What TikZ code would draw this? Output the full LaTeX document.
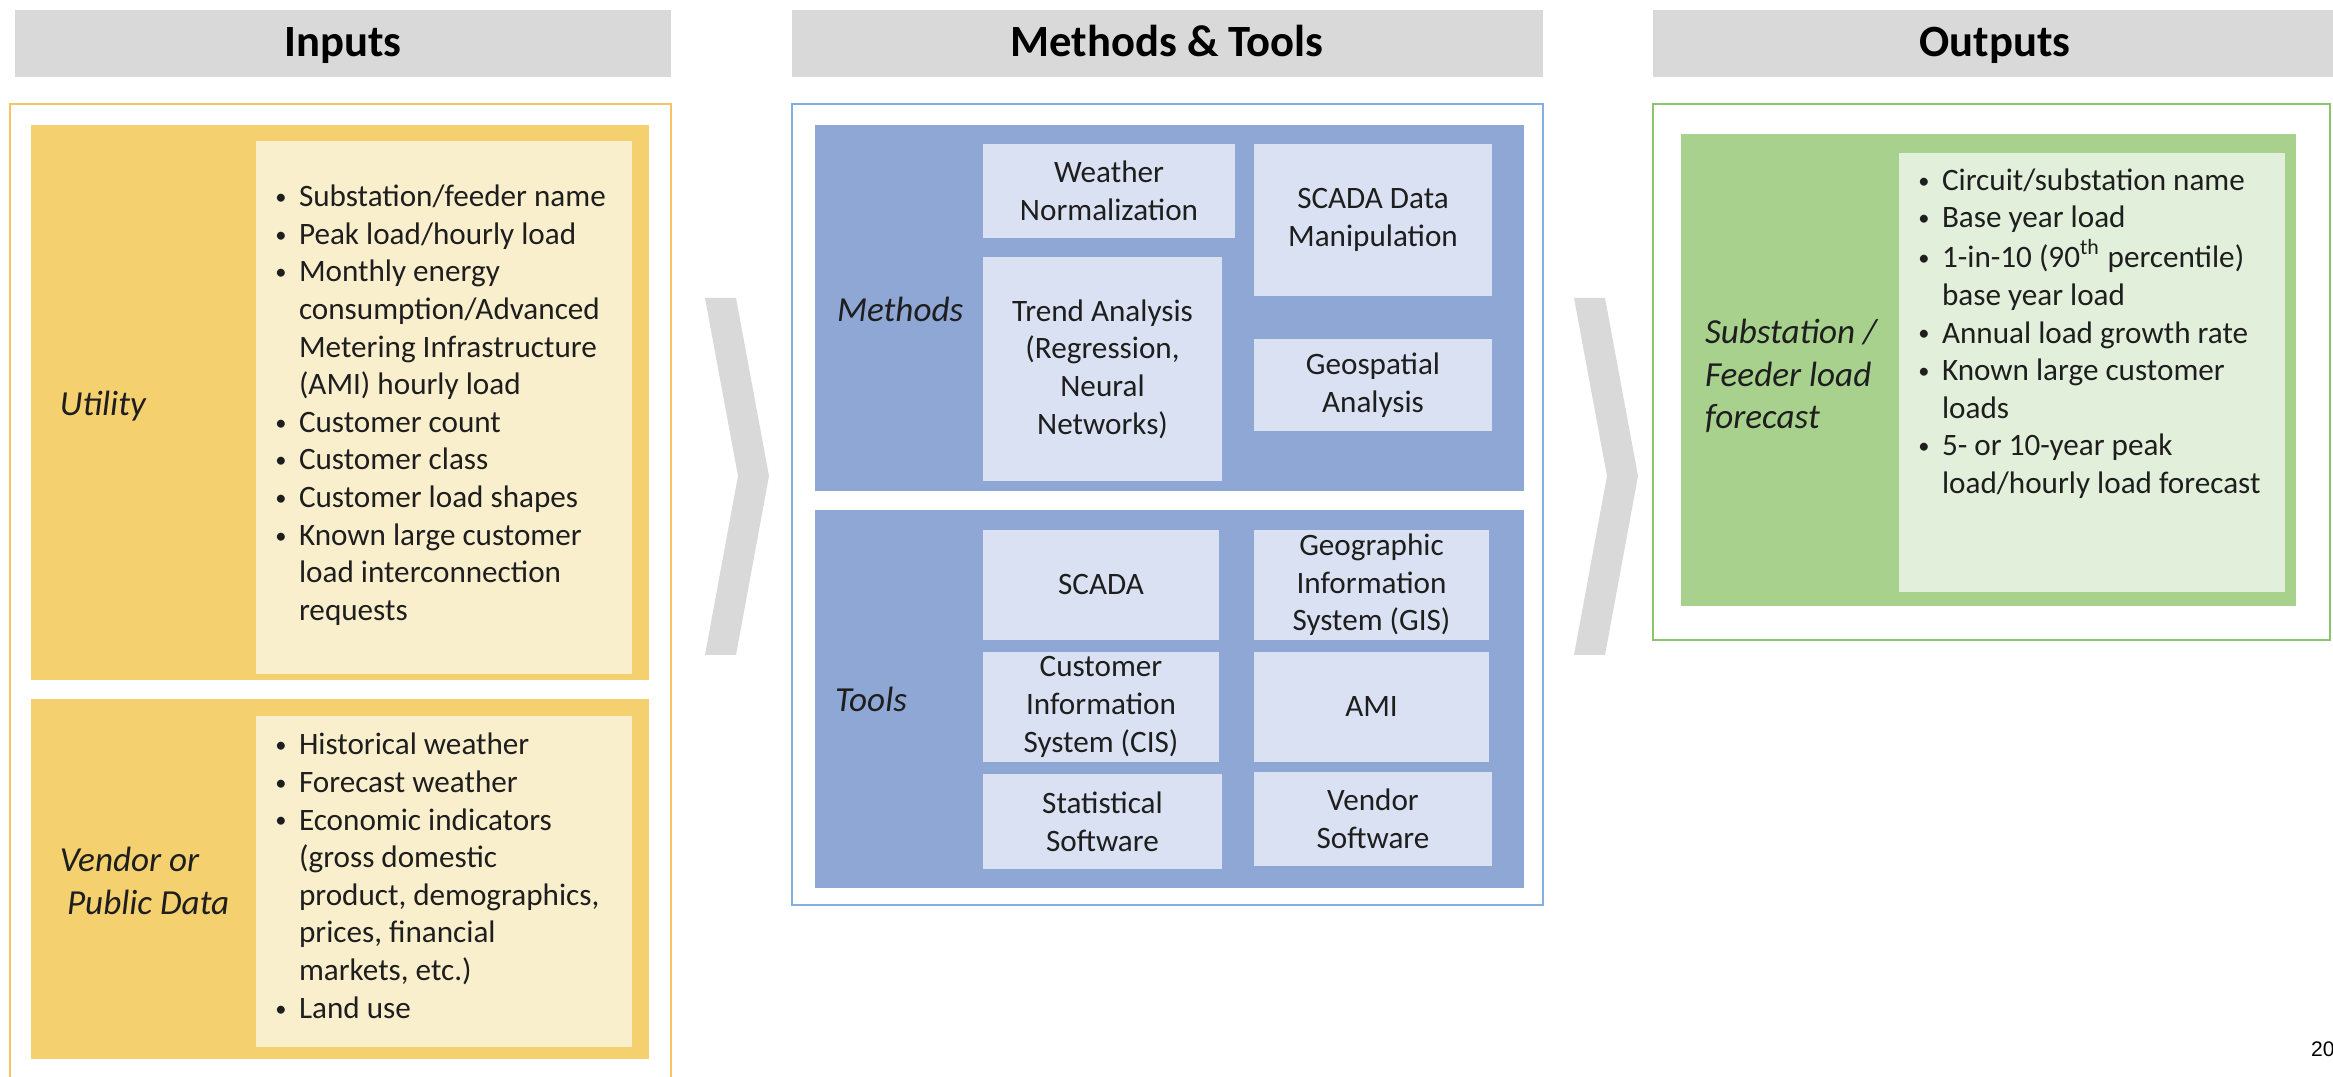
\documentclass[tikz,border=0pt]{standalone}
\usepackage{fontspec}
\setmainfont{Carlito}
\newfontfamily\pagenumfont{Liberation Sans}
\usetikzlibrary{fit}

\definecolor{hdrgray}{HTML}{D9D9D9}
\definecolor{chevgray}{HTML}{D9D9D9}
\definecolor{txt}{HTML}{1E1E1E}
\definecolor{ydark}{HTML}{F5D06F}
\definecolor{ylight}{HTML}{FAEFCD}
\definecolor{yline}{HTML}{F4C465}
\definecolor{bdark}{HTML}{8FA7D5}
\definecolor{blight}{HTML}{D9E1F2}
\definecolor{bline}{HTML}{7FB0E0}
\definecolor{gdark}{HTML}{A9D18E}
\definecolor{glight}{HTML}{E2EFDA}
\definecolor{gline}{HTML}{8CC46E}

% bullet list laid out as a two-column table
\newenvironment{blist}{\fontsize{8.86}{10.7}\selectfont
  \begin{tabular}{@{}p{0.36cm}@{}l@{}}}{\end{tabular}}
\newcommand{\bul}{\makebox[0.36cm][c]{\raisebox{0.6pt}{\scalebox{0.72}{\textbullet}}}}

\begin{document}
\begin{tikzpicture}[x=0.01cm,y=-0.01cm,
  every node/.style={text=txt, inner sep=0pt, outer sep=0pt},
  area/.style={inner sep=0pt, draw=none},
  hdr/.style={area, fill=hdrgray},
  hdrtxt/.style={anchor=base, font=\bfseries\fontsize{12.7}{15}\selectfont, text=black},
  frame/.style={area, draw, line width=0.5pt, fill=white},
  panel/.style={area},
  cell/.style={area, fill=blight},
  celltxt/.style={align=center, font=\fontsize{8.86}{10.7}\selectfont},
  lbl/.style={align=left, font=\itshape\fontsize{10}{12}\selectfont},
  chev/.style={fill=chevgray}
]
\useasboundingbox (0,0) rectangle (2333,1077);
\clip (0,0) rectangle (2333,1077);
\fill[white] (0,0) rectangle (2333,1077);

% column headers (titles share one baseline)
\node[hdr, fit={(15,10) (671,77)}] (hin) {};
\node[hdrtxt] (hintxt) at (343,57) {Inputs};
\node[hdr, fit={(792,10) (1543,77)}] (hmt) {};
\node[hdrtxt] (hmttxt) at (1167,57) {Methods \& Tools};
\node[hdr, fit={(1653,10) (2340,77)}] (hout) {};
\node[hdrtxt] (houttxt) at (1995,57) {Outputs};

% ---------------- Inputs ----------------
\node[frame, draw=yline, fit={(10,104) (671,1090)}] (inframe) {};
\node[panel, fill=ydark, fit={(31,125) (649,680)}] (util) {};
\node[panel, fill=ylight, fit={(256,141) (632,674)}] (utilin) {};
\node[panel, fill=ydark, fit={(31,699) (649,1059)}] (vend) {};
\node[panel, fill=ylight, fit={(256,716) (632,1047)}] (vendin) {};

\node[lbl, anchor=west] (utillbl) at (60,406) {Utility};
\node[lbl, anchor=west] (vendlbl) at (60,881) {Vendor or\\\hspace*{2pt}Public Data};

\node[anchor=west] (utillist) at (263,406) {\begin{blist}
\bul & Substation/feeder name\\
\bul & Peak load/hourly load\\
\bul & Monthly energy\\
     & consumption/Advanced\\
     & Metering Infrastructure\\
     & (AMI) hourly load\\
\bul & Customer count\\
\bul & Customer class\\
\bul & Customer load shapes\\
\bul & Known large customer\\
     & load interconnection\\
     & requests
\end{blist}};

\node[anchor=west] (vendlist) at (263,879) {\begin{blist}
\bul & Historical weather\\
\bul & Forecast weather\\
\bul & Economic indicators\\
     & (gross domestic\\
     & product, demographics,\\
     & prices, financial\\
     & markets, etc.)\\
\bul & Land use
\end{blist}};

% chevrons between the columns
\fill[chev] (705,298) -- (736,298) -- (769,476) -- (736,655) -- (705,655) -- (738,476) -- cycle;
\fill[chev] (1574,298) -- (1605,298) -- (1638,476) -- (1605,655) -- (1574,655) -- (1607,476) -- cycle;

% ---------------- Methods & Tools ----------------
\node[frame, draw=bline, fit={(792,104) (1543,905)}] (mtframe) {};
\node[panel, fill=bdark, fit={(815,125) (1524,491)}] (meth) {};
\node[panel, fill=bdark, fit={(815,510) (1524,888)}] (tools) {};

\node[lbl, anchor=west] (methlbl) at (837,309) {Methods};
\node[lbl, anchor=west] (toolslbl) at (835,699) {Tools};

\node[cell, fit={(983,144) (1235,238)}] (wn) {};
\node[celltxt] (wntxt) at (wn.center) {Weather\\Normalization};
\node[cell, fit={(1254,144) (1492,296)}] (scadadm) {};
\node[celltxt] (scadadmtxt) at (scadadm.center) {SCADA Data\\Manipulation};
\node[cell, fit={(983,257) (1222,481)}] (trend) {};
\node[celltxt] (trendtxt) at (trend.center) {Trend Analysis\\(Regression,\\Neural\\Networks)};
\node[cell, fit={(1254,339) (1492,431)}] (geo) {};
\node[celltxt] (geotxt) at (geo.center) {Geospatial\\Analysis};

\node[cell, fit={(983,530) (1219,640)}] (scada) {};
\node[celltxt] (scadatxt) at (scada.center) {SCADA};
\node[cell, fit={(1254,530) (1489,640)}] (gis) {};
\node[celltxt] (gistxt) at (gis.center) {Geographic\\Information\\System (GIS)};
\node[cell, fit={(983,652) (1219,762)}] (cis) {};
\node[celltxt] (cistxt) at (cis.center) {Customer\\Information\\System (CIS)};
\node[cell, fit={(1254,652) (1489,762)}] (ami) {};
\node[celltxt] (amitxt) at (ami.center) {AMI};
\node[cell, fit={(983,774) (1222,869)}] (stat) {};
\node[celltxt] (stattxt) at (stat.center) {Statistical\\Software};
\node[cell, fit={(1254,772) (1492,866)}] (vsw) {};
\node[celltxt] (vswtxt) at (vsw.center) {Vendor\\Software};

% ---------------- Outputs ----------------
\node[frame, draw=gline, fit={(1653,104) (2330,640)}] (outframe) {};
\node[panel, fill=gdark, fit={(1681,134) (2296,606)}] (outp) {};
\node[panel, fill=glight, fit={(1899,153) (2285,592)}] (outin) {};

\node[lbl, anchor=west] (outlbl) at (1705,376) {Substation /\\Feeder load\\forecast};

\node[anchor=north west] (outlist) at (1906,164) {\begin{blist}
\bul & Circuit/substation name\\
\bul & Base year load\\
\bul & 1-in-10 (90\textsuperscript{th} percentile)\\
     & base year load\\
\bul & Annual load growth rate\\
\bul & Known large customer\\
     & loads\\
\bul & 5- or 10-year peak\\
     & load/hourly load forecast
\end{blist}};

% page number
\node[anchor=base west, text=black, font=\pagenumfont\fontsize{6}{7}\selectfont] (pnum) at (2311,1057) {20};
\end{tikzpicture}
\end{document}
